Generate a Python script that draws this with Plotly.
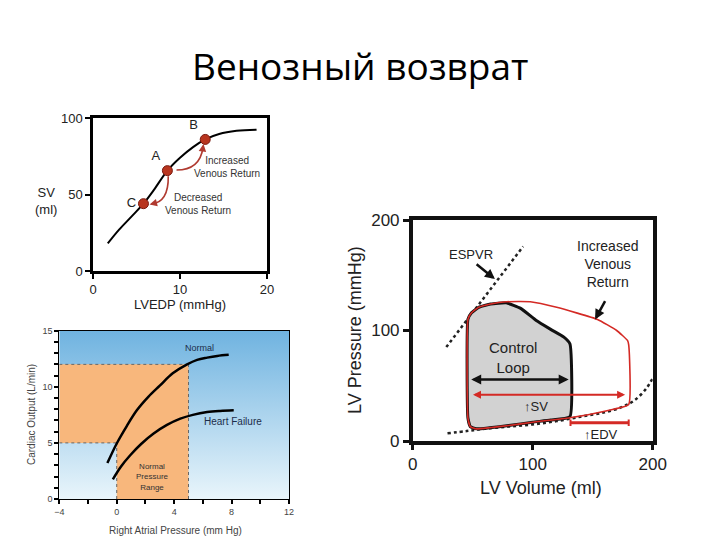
import plotly.graph_objects as go

# ---------------- Panel 1: Frank-Starling (SV vs LVEDP) ----------------
lvedp = [1.7, 3.0, 4.5, 5.8, 7.0, 8.55, 10.0, 11.5, 12.9, 14.5, 16.5, 18.8]
sv = [18, 27, 36, 44, 53, 65.6, 74, 81, 86, 89.5, 91.6, 92.4]
pt_labels = ["C", "A", "B"]
pt_x = [5.8, 8.55, 12.9]
pt_y = [44, 65.6, 86]

# ---------------- Panel 2: Cardiac output curves ----------------
ra_normal = [-0.65, 0.0, 0.7, 1.4, 2.2, 3.0, 3.9, 4.9, 5.6, 6.3, 7.0, 7.8]
co_normal = [3.2, 4.95, 6.5, 7.9, 9.1, 10.1, 11.2, 12.0, 12.4, 12.6, 12.75, 12.85]
ra_hf = [-0.27, 0.3, 0.94, 1.7, 2.57, 3.5, 4.43, 5.3, 6.3, 7.2, 8.15]
co_hf = [1.75, 2.9, 3.9, 4.9, 5.83, 6.6, 7.16, 7.5, 7.75, 7.85, 7.9]
normal_pressure = [0, 5]
normal_output = [5, 12]

# ---------------- Panel 3: PV loops ----------------
ctrl_v = [46, 46, 49, 55, 65, 78, 90, 103, 115, 126, 131, 131, 115, 100, 80, 64, 53, 48, 46]
ctrl_p = [21, 110, 116, 121, 124, 125, 120, 109, 101, 94, 88, 22, 19, 17, 14, 12, 11, 13, 21]
inc_v = [46, 46, 49, 55, 65, 78, 98, 120, 154, 170, 179, 180, 180, 160, 131, 100, 80, 64, 53, 48, 46]
inc_p = [21, 110, 116, 121, 124, 126, 126, 121, 110, 100, 91, 87, 33, 27, 21, 17, 14, 12, 11, 13, 21]
edpvr_v = [29, 45, 60, 80, 100, 120, 140, 160, 175, 185, 195, 200]
edpvr_p = [7, 9, 11, 13, 15, 18, 22, 26, 31, 37, 48, 57]
espvr_v = [28, 92]
espvr_p = [85, 176]

FONT = "Liberation Sans, Arial, sans-serif"
W, H, OFF = 720, 540, 8  # page body margin offsets the figure by 8 px


def fx(p):
    return (p - OFF) / W


def fy(p):
    return (H - (p - OFF)) / H


fig = go.Figure()

# ---- panel 1 traces
fig.add_trace(go.Scatter(x=lvedp, y=sv, mode="lines", line=dict(color="black", width=2, shape="spline"),
                         xaxis="x", yaxis="y", showlegend=False, hoverinfo="skip"))
fig.add_trace(go.Scatter(x=pt_x, y=pt_y, mode="markers+text", text=pt_labels,
                         textposition=["middle left", "top left", "top left"],
                         textfont=dict(size=13, color="#222", family=FONT),
                         marker=dict(size=10, color="#b8351f", line=dict(color="#7a1a10", width=1)),
                         xaxis="x", yaxis="y", showlegend=False))

# ---- panel 2 traces
fig.add_trace(go.Scatter(x=[-4, 12, 12, -4, -4], y=[0, 0, 15, 15, 0], mode="lines", fill="toself",
                         line=dict(width=0), fillgradient=dict(type="vertical",
                         colorscale=[[0, "#e9f5fb"], [1, "#6fb3e0"]]),
                         xaxis="x2", yaxis="y2", showlegend=False, hoverinfo="skip"))
fig.add_trace(go.Scatter(x=[-4, -4, normal_pressure[1], normal_pressure[1], normal_pressure[0], normal_pressure[0], -4],
                         y=[normal_output[0], normal_output[1], normal_output[1], 0, 0, normal_output[0], normal_output[0]],
                         mode="lines", fill="toself", fillcolor="#f8b77c", line=dict(width=0),
                         xaxis="x2", yaxis="y2", showlegend=False, hoverinfo="skip"))
for xs, ys in [([-4, normal_pressure[1]], [normal_output[1]] * 2),
               ([normal_pressure[1]] * 2, [0, normal_output[1]]),
               ([-4, normal_pressure[0]], [normal_output[0]] * 2),
               ([normal_pressure[0]] * 2, [0, normal_output[0]])]:
    fig.add_trace(go.Scatter(x=xs, y=ys, mode="lines", line=dict(color="#666", width=1, dash="dot"),
                             xaxis="x2", yaxis="y2", showlegend=False, hoverinfo="skip"))
fig.add_trace(go.Scatter(x=ra_normal, y=co_normal, mode="lines", line=dict(color="black", width=2.5, shape="spline"),
                         xaxis="x2", yaxis="y2", showlegend=False))
fig.add_trace(go.Scatter(x=ra_hf, y=co_hf, mode="lines", line=dict(color="black", width=2.5, shape="spline"),
                         xaxis="x2", yaxis="y2", showlegend=False))

# ---- panel 3 traces
fig.add_trace(go.Scatter(x=espvr_v, y=espvr_p, mode="lines", line=dict(color="#222", width=2.5, dash="dot"),
                         xaxis="x3", yaxis="y3", showlegend=False))
fig.add_trace(go.Scatter(x=edpvr_v, y=edpvr_p, mode="lines", line=dict(color="#222", width=2.5, dash="dot", shape="spline"),
                         xaxis="x3", yaxis="y3", showlegend=False))
fig.add_trace(go.Scatter(x=ctrl_v, y=ctrl_p, mode="lines", fill="toself", fillcolor="#d2d2d2",
                         line=dict(color="#111", width=3, shape="spline", smoothing=0.4),
                         xaxis="x3", yaxis="y3", showlegend=False))
fig.add_trace(go.Scatter(x=inc_v, y=inc_p, mode="lines", line=dict(color="#d42a25", width=1.6, shape="spline", smoothing=0.4),
                         xaxis="x3", yaxis="y3", showlegend=False))
fig.add_trace(go.Scatter(x=[131.5, 180], y=[16.5, 16.5], mode="lines", line=dict(color="#d42a25", width=3),
                         xaxis="x3", yaxis="y3", showlegend=False))
for xv in [131.5, 180]:
    fig.add_trace(go.Scatter(x=[xv, xv], y=[13.5, 19.5], mode="lines", line=dict(color="#d42a25", width=2),
                             xaxis="x3", yaxis="y3", showlegend=False))


def pa(text, px, py, size, color="#222", angle=0, family=FONT):
    return dict(text=text, x=fx(px), y=fy(py), xref="paper", yref="paper", showarrow=False,
                xanchor="center", yanchor="middle",
                textangle=angle, font=dict(size=size, family=family, color=color))


ann = []
# title
ann.append(pa("Венозный возврат", 360, 66, 37, color="black", family="Open Sans, sans-serif"))
# panel 1
ann.append(pa("SV<br>(ml)", 46, 201, 13))
ann.append(pa("LVEDP (mmHg)", 180, 304, 13))
ann.append(dict(text="Increased<br>Venous Return", x=15.4, y=68, xref="x", yref="y", showarrow=False,
                font=dict(size=10, family=FONT, color="#333")))
ann.append(dict(text="Decreased<br>Venous Return", x=12.1, y=44, xref="x", yref="y", showarrow=False,
                font=dict(size=10, family=FONT, color="#333")))
ann.append(dict(text="", x=12.7, y=83, ax=12.6, ay=79, xref="x", yref="y", axref="x", ayref="y",
                showarrow=True, arrowhead=2, arrowsize=1, arrowwidth=1.5, arrowcolor="#b03a30"))
ann.append(dict(text="", x=6.5, y=43.5, ax=7.2, ay=44.5, xref="x", yref="y", axref="x", ayref="y",
                showarrow=True, arrowhead=2, arrowsize=1, arrowwidth=1.5, arrowcolor="#b03a30"))
# panel 2
ann.append(pa("Right Atrial Pressure (mm Hg)", 175, 530, 10, color="#444"))
ann.append(pa("Cardiac Output (L/min)", 31, 415, 10, color="#444", angle=-90))
ann.append(dict(text="Normal", x=5.8, y=13.5, xref="x2", yref="y2", showarrow=False,
                font=dict(size=9, family=FONT, color="#1c2d4a")))
ann.append(dict(text="Heart Failure", x=8.1, y=6.9, xref="x2", yref="y2", showarrow=False,
                font=dict(size=10, family=FONT, color="#1c2d4a")))
ann.append(dict(text="Normal<br>Pressure<br>Range", x=2.5, y=2.0, xref="x2", yref="y2", showarrow=False,
                font=dict(size=8, family=FONT, color="#333")))
# panel 3
ann.append(pa("LV Volume (ml)", 541, 488, 18))
ann.append(pa("LV Pressure (mmHg)", 355, 330, 18, angle=-90))
ann.append(dict(text="", x=130, y=55.6, ax=47.5, ay=55.6, xref="x3", yref="y3", axref="x3", ayref="y3",
                showarrow=True, arrowhead=2, arrowside="end+start", arrowwidth=2.5, arrowsize=0.8, arrowcolor="#111"))
ann.append(dict(text="", x=177, y=41.8, ax=49, ay=41.8, xref="x3", yref="y3", axref="x3", ayref="y3",
                showarrow=True, arrowhead=2, arrowside="end+start", arrowwidth=2, arrowsize=0.8, arrowcolor="#d42a25"))
ann.append(dict(text="↑SV", x=103, y=31, xref="x3", yref="y3", showarrow=False,
                font=dict(size=13, family=FONT, color="#222")))
ann.append(dict(text="↑EDV", x=157, y=6, xref="x3", yref="y3", showarrow=False,
                font=dict(size=13, family=FONT, color="#222")))
ann.append(dict(text="Control<br>Loop", x=84, y=76, xref="x3", yref="y3", showarrow=False,
                font=dict(size=15, family=FONT, color="#222")))
ann.append(dict(text="ESPVR", x=49, y=169, xref="x3", yref="y3", showarrow=False,
                font=dict(size=13, family=FONT, color="#222")))
ann.append(dict(text="", x=68.5, y=146.5, ax=52, ay=161, xref="x3", yref="y3", axref="x3", ayref="y3",
                showarrow=True, arrowhead=2, arrowwidth=2.5, arrowsize=0.8, arrowcolor="#111"))
ann.append(dict(text="Increased<br>Venous<br>Return", x=162, y=160, xref="x3", yref="y3", showarrow=False,
                font=dict(size=14, family=FONT, color="#222")))
ann.append(dict(text="", x=152, y=110, ax=161, ay=128, xref="x3", yref="y3", axref="x3", ayref="y3",
                showarrow=True, arrowhead=2, arrowwidth=2.5, arrowsize=0.8, arrowcolor="#111"))

shapes = [
    dict(type="path", xref="x", yref="y", path="M 9.6,66 Q 12.3,66 12.65,81",
         line=dict(color="#b03a30", width=1.6)),
    dict(type="path", xref="x", yref="y", path="M 8.65,62 Q 8.7,45 6.7,43.8",
         line=dict(color="#b03a30", width=1.6)),
]

ax1 = dict(showgrid=False, zeroline=False, linecolor="black", mirror=True, ticks="outside",
           tickcolor="black", showline=True, automargin=False,
           tickfont=dict(size=13, family=FONT, color="#222"))
fig.update_layout(
    width=W, height=H, autosize=False, margin=dict(l=0, r=0, t=0, b=0, autoexpand=False),
    paper_bgcolor="white", plot_bgcolor="white", showlegend=False,
    xaxis=dict(ax1, domain=[fx(93), fx(267)], range=[0, 20], tickvals=[0, 10, 20], linewidth=2.5,
               ticklen=5, tickwidth=2, anchor="y"),
    yaxis=dict(ax1, domain=[fy(271), fy(118)], range=[0, 100], tickvals=[0, 50, 100],
               linewidth=2.5, ticklen=5, tickwidth=2, anchor="x"),
    xaxis2=dict(showgrid=False, zeroline=False, showline=True, linecolor="black", linewidth=1.2, mirror=True,
                automargin=False,
                domain=[fx(59.3), fx(289)], range=[-4, 12], tickvals=[-4, 0, 4, 8, 12], ticks="outside",
                ticklen=4, tickwidth=1.5, tickcolor="black",
                minor=dict(dtick=2, ticks="outside", ticklen=4, tickwidth=1.5, tickcolor="black"),
                tickfont=dict(size=9, family=FONT, color="#444"), anchor="y2"),
    yaxis2=dict(showgrid=False, zeroline=False, showline=True, linecolor="black", linewidth=1.2, mirror=True,
                automargin=False,
                domain=[fy(499), fy(330.7)], range=[0, 15], tickvals=[0, 5, 10, 15],
                ticks="outside", ticklen=4, tickwidth=1.5, tickcolor="black",
                minor=dict(dtick=1, ticks="outside", ticklen=4, tickwidth=1.5, tickcolor="black"),
                tickfont=dict(size=9, family=FONT, color="#444"), anchor="x2"),
    xaxis3=dict(showgrid=False, zeroline=False, showline=True, linecolor="#111", linewidth=3.5, mirror=True,
                automargin=False,
                domain=[fx(412.7), fx(652.7)], range=[0, 200], tickvals=[0, 100, 200], ticks="outside",
                ticklen=5, tickwidth=3, tickcolor="#111", tickfont=dict(size=17, family=FONT, color="#222"),
                anchor="y3"),
    yaxis3=dict(showgrid=False, zeroline=False, showline=True, linecolor="#111", linewidth=3.5, mirror=True,
                automargin=False,
                domain=[fy(441), fy(220)], range=[0, 200], tickvals=[0, 100, 200],
                ticks="outside", ticklen=6, tickwidth=3, tickcolor="#111",
                tickfont=dict(size=17, family=FONT, color="#222"), anchor="x3"),
    annotations=ann, shapes=shapes,
)

fig.write_html("out.html")
